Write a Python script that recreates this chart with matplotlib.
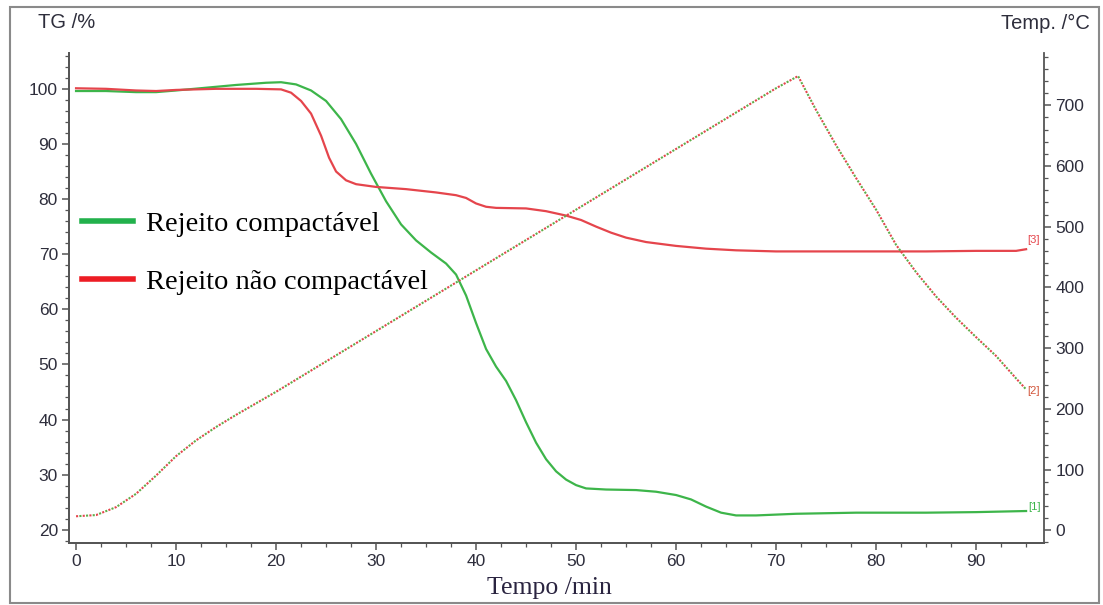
import numpy as np
import matplotlib.pyplot as plt
from matplotlib.lines import Line2D
from matplotlib.patches import Rectangle
from matplotlib.ticker import MultipleLocator

# TG curve, compactable residue [1]
t_green = [0, 3, 6, 8, 10, 13, 16, 19, 20.5, 22, 23.5, 25, 26.5, 28, 29.5, 31, 32.5,
           34, 35.5, 37, 38, 39, 40, 41, 42, 43, 44, 45, 46, 47, 48, 49, 50, 51,
           53, 56, 58, 60, 61.5, 63, 64.5, 66, 68, 72, 78, 85, 90, 95]
tg_green = [99.6, 99.6, 99.4, 99.4, 99.7, 100.2, 100.7, 101.1, 101.2, 100.8, 99.7, 97.8,
            94.5, 90.0, 84.6, 79.6, 75.4, 72.5, 70.3, 68.3, 66.3, 62.5, 57.5, 52.8,
            49.6, 47.0, 43.5, 39.5, 35.8, 32.8, 30.6, 29.1, 28.1, 27.5, 27.3, 27.2,
            26.9, 26.3, 25.5, 24.2, 23.1, 22.6, 22.6, 22.9, 23.1, 23.1, 23.2, 23.4]

# TG curve, non-compactable residue [3]
t_red = [0, 3, 6, 8, 10, 14, 18, 20.5, 21.5, 22.5, 23.5, 24.5, 25.3, 26, 27, 28, 30,
         33, 36, 38, 39, 40, 41, 42, 45, 47, 49, 50.5, 52, 53.5, 55, 57, 60, 63,
         66, 70, 75, 80, 85, 90, 94, 95]
tg_red = [100.1, 100.0, 99.7, 99.6, 99.8, 100.0, 100.0, 99.9, 99.3, 97.8, 95.5, 91.5,
          87.5, 85.0, 83.4, 82.7, 82.2, 81.8, 81.2, 80.7, 80.2, 79.2, 78.6, 78.4,
          78.3, 77.8, 77.0, 76.2, 75.0, 73.9, 73.0, 72.2, 71.5, 71.0, 70.7, 70.5,
          70.5, 70.5, 70.5, 70.6, 70.6, 70.9]

# furnace temperature program [2]
t_temp = [0, 2, 4, 6, 8, 10, 12, 14, 16, 18, 20, 25, 30, 35, 40, 45, 50, 55, 60, 65,
          70, 72.2, 74, 76, 78, 80, 82, 84, 86, 88, 90, 92, 94, 95]
temp = [23, 25, 38, 60, 90, 122, 148, 170, 190, 209, 228, 278, 328, 378, 428, 478,
        528, 578, 628, 678, 728, 748, 692, 634, 580, 528, 470, 425, 385, 350, 318,
        287, 250, 232]

GREEN = '#3db54a'
RED = '#e5454c'
TICK_COL = '#2e2e3c'
SERIF = ['Liberation Serif', 'DejaVu Serif']

plt.rcParams['font.family'] = ['Liberation Sans', 'DejaVu Sans']

fig = plt.figure(figsize=(11.03, 6.05), dpi=100)
ax = fig.add_axes([0.0626, 0.1025, 0.884, 0.8099])
ax2 = ax.twinx()

ax.plot(t_green, tg_green, color=GREEN, lw=1.6)
ax.plot(t_red, tg_red, color=RED, lw=1.6)
ax2.plot(t_temp, temp, color=RED, lw=1.5, linestyle=(0, (1, 2.2)))
ax2.plot(t_temp, temp, color='#5fae4a', lw=1.5, linestyle=(1.6, (1, 2.2)))

ax.text(t_green[-1] + 0.2, tg_green[-1] + 0.7, '[1]', color=GREEN, fontsize=8, ha='left', va='center')
ax.text(t_red[-1] + 0.1, tg_red[-1] + 1.7, '[3]', color=RED, fontsize=8, ha='left', va='center')
ax2.text(t_temp[-1] + 0.1, temp[-1] - 2, '[2]', color='#d2553a', fontsize=8, ha='left', va='center')

ax.set_xlim(-0.7, 96.8)
ax.set_ylim(17.6, 106.5)
ax2.set_ylim(-21, 786)

ax.xaxis.set_major_locator(MultipleLocator(10))
ax.xaxis.set_minor_locator(MultipleLocator(2.5))
ax.yaxis.set_major_locator(MultipleLocator(10))
ax.yaxis.set_minor_locator(MultipleLocator(2))
ax2.yaxis.set_major_locator(MultipleLocator(100))
ax2.yaxis.set_minor_locator(MultipleLocator(20))

for a in (ax, ax2):
    a.spines['top'].set_visible(False)
    for s in a.spines.values():
        s.set_color('#555555')
        s.set_linewidth(1.3)
    a.tick_params(which='major', direction='out', length=5, width=1.1, color='#555555',
                  labelsize=12.5, labelcolor=TICK_COL, pad=3)
    a.tick_params(which='minor', direction='out', length=3, width=0.9, color='#555555')
ax.spines['right'].set_visible(False)

fig.text(0.034, 0.962, 'TG /%', fontsize=14.5, color=TICK_COL, ha='left', va='center')
fig.text(0.988, 0.962, 'Temp. /°C', fontsize=14.5, color=TICK_COL, ha='right', va='center')
fig.text(0.498, 0.028, 'Tempo /min', fontsize=18.5, color='#2a2440',
         family=SERIF, ha='center', va='center')

handles = [Line2D([], [], color='#22b14c', lw=4), Line2D([], [], color='#ed1c24', lw=4)]
ax.legend(handles, ['Rejeito compactável', 'Rejeito não compactável'],
          loc='upper left', bbox_to_anchor=(0.0133, 0.678), frameon=False,
          borderpad=0, borderaxespad=0,
          prop={'family': SERIF, 'size': 20.5},
          handlelength=1.8, handletextpad=0.45, labelspacing=1.15)

fig.patches.append(Rectangle((0.009, 0.004), 0.987, 0.984, transform=fig.transFigure,
                             fill=False, edgecolor='#8a8a8a', lw=1.5))

fig.savefig('out.png', dpi=100)
